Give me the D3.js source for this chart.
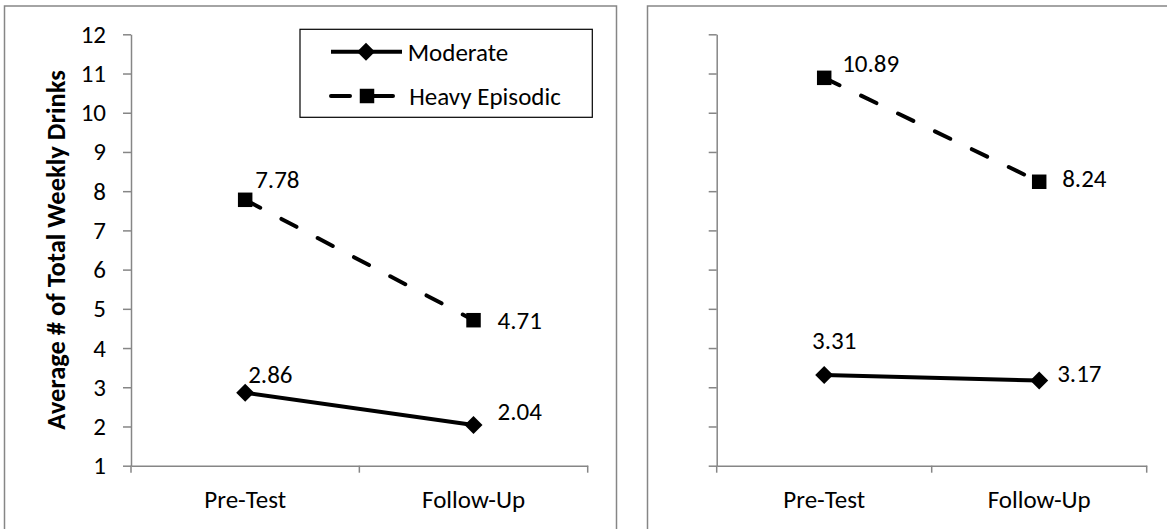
<!DOCTYPE html>
<html>
<head>
<meta charset="utf-8">
<script src="https://cdn.jsdelivr.net/npm/d3@7"></script>
<style>
  html, body { margin: 0; padding: 0; background: #fff; }
  svg { display: block; font-family: Carlito, Calibri, Lato, sans-serif; }
</style>
</head>
<body>
<svg id="chart" width="1167" height="529"></svg>
<script>
// Data
const categories = ["Pre-Test", "Follow-Up"];
const seriesNames = ["Moderate", "Heavy Episodic"];
const leftModerate = [2.86, 2.04];
const leftHeavy = [7.78, 4.71];
const rightModerate = [3.31, 3.17];
const rightHeavy = [10.89, 8.24];
const yTicks = [1, 2, 3, 4, 5, 6, 7, 8, 9, 10, 11, 12];
const yTitle = "Average # of Total Weekly Drinks";

// Label offsets from marker [dx, dy, anchor]
const leftLabelOffsets = {
  moderate: [[3, -10, "start"], [24, -5, "start"]],
  heavy: [[10, -12, "start"], [24, 9, "start"]],
};
const rightLabelOffsets = {
  moderate: [[10, -26, "middle"], [18, 1, "start"]],
  heavy: [[18, -6, "start"], [23, 5, "start"]],
};

const AXIS_COLOR = "#868686";
const FONT_SIZE = 25;
const TITLE_SIZE = 26.5;

const svg = d3.select("#chart");

// Panel frames
svg.append("rect").attr("x", 4.5).attr("y", 6).attr("width", 612).attr("height", 540)
  .style("fill", "none").style("stroke", AXIS_COLOR).style("stroke-width", 1.5);
svg.append("rect").attr("x", 647.5).attr("y", 6).attr("width", 540).attr("height", 540)
  .style("fill", "none").style("stroke", AXIS_COLOR).style("stroke-width", 1.5);

const yScale = d3.scaleLinear().domain([1, 12]).range([465.7, 34.3]);

const diamond = d3.symbol(d3.symbolSquare, 162)();
const square = d3.symbol(d3.symbolSquare, 210)();

const drawPanel = (x0, x1, moderate, heavy, offsets, showLabels) => {
  const g = svg.append("g");
  const xScale = d3.scaleBand().domain(categories).range([x0, x1]);
  const cx = (c) => xScale(c) + xScale.bandwidth() / 2;

  // Y axis
  const yAxis = d3.axisLeft(yScale).tickValues(yTicks).tickSize(8).tickSizeOuter(0)
    .tickPadding(17).tickFormat(showLabels ? d3.format("d") : () => "");
  const yG = g.append("g").attr("transform", `translate(${x0},0)`).call(yAxis);
  yG.select(".domain").style("stroke", AXIS_COLOR).style("stroke-width", 1.5);
  yG.selectAll(".tick line").style("stroke", AXIS_COLOR).style("stroke-width", 1.5);
  yG.selectAll(".tick text").style("font-size", FONT_SIZE + "px").style("fill", "#000")
    .style("font-family", "Carlito, Calibri, Lato, sans-serif");

  // X axis
  const xAxis = d3.axisBottom(xScale).tickSize(0).tickPadding(25).tickSizeOuter(0);
  const xG = g.append("g").attr("transform", `translate(0,${yScale(1)})`).call(xAxis);
  xG.select(".domain").style("stroke", AXIS_COLOR).style("stroke-width", 1.5);
  xG.selectAll(".tick text").style("font-size", FONT_SIZE + "px").style("fill", "#000")
    .style("font-family", "Carlito, Calibri, Lato, sans-serif");
  const bounds = d3.range(categories.length + 1).map((i) => x0 + i * xScale.step());
  g.selectAll("line.xtick").data(bounds).enter().append("line").classed("xtick", true)
    .attr("x1", (d) => d).attr("x2", (d) => d)
    .attr("y1", yScale(1)).attr("y2", yScale(1) + 7)
    .style("stroke", AXIS_COLOR).style("stroke-width", 1.5);

  const line = d3.line().x((d, i) => cx(categories[i])).y((d) => yScale(d));

  // Heavy episodic series
  g.append("path").attr("d", line(heavy))
    .style("fill", "none").style("stroke", "#000").style("stroke-width", 4)
    .style("stroke-dasharray", "17,24").style("stroke-linecap", "round");
  g.selectAll("path.sq").data(heavy).enter().append("path").classed("sq", true)
    .attr("d", square)
    .attr("transform", (d, i) => `translate(${cx(categories[i])},${yScale(d)})`);

  // Moderate series
  g.append("path").attr("d", line(moderate))
    .style("fill", "none").style("stroke", "#000").style("stroke-width", 4)
    .style("stroke-linejoin", "round");
  g.selectAll("path.dm").data(moderate).enter().append("path").classed("dm", true)
    .attr("d", diamond)
    .attr("transform", (d, i) => `translate(${cx(categories[i])},${yScale(d)}) rotate(45)`);

  // Data labels
  const addLabels = (vals, offs) => {
    g.selectAll(null).data(vals).enter().append("text")
      .attr("x", (d, i) => cx(categories[i]) + offs[i][0])
      .attr("y", (d, i) => yScale(d) + offs[i][1])
      .attr("text-anchor", (d, i) => offs[i][2])
      .style("font-size", FONT_SIZE + "px")
      .text((d) => d.toFixed(2));
  };
  addLabels(moderate, offsets.moderate);
  addLabels(heavy, offsets.heavy);
};

drawPanel(131, 587.7, leftModerate, leftHeavy, leftLabelOffsets, true);
drawPanel(716.7, 1146.7, rightModerate, rightHeavy, rightLabelOffsets, false);

// Y axis title
svg.append("text")
  .attr("transform", `translate(65,${yScale(6.5)}) rotate(-90)`)
  .attr("text-anchor", "middle")
  .style("font-size", TITLE_SIZE + "px").style("font-weight", "bold")
  .text(yTitle);

// Legend
const legend = svg.append("g");
legend.append("rect").attr("x", 300).attr("y", 29.3).attr("width", 292.3).attr("height", 88)
  .style("fill", "#fff").style("stroke", "#000").style("stroke-width", 1.2);
const legendRows = [51.7, 96];
legend.append("line").attr("x1", 331).attr("x2", 402).attr("y1", legendRows[0]).attr("y2", legendRows[0])
  .style("stroke", "#000").style("stroke-width", 4);
legend.append("path").attr("d", diamond).attr("transform", `translate(366,${legendRows[0]}) rotate(45)`);
legend.append("line").attr("x1", 331).attr("x2", 393).attr("y1", legendRows[1]).attr("y2", legendRows[1])
  .style("stroke", "#000").style("stroke-width", 4)
  .style("stroke-dasharray", "19,24").style("stroke-linecap", "round");
legend.append("path").attr("d", square).attr("transform", `translate(367,${legendRows[1]})`);
legend.selectAll("text.lg").data(seriesNames).enter().append("text").classed("lg", true)
  .attr("x", (d, i) => (i === 0 ? 407.7 : 409.3))
  .attr("y", (d, i) => legendRows[i] + 9)
  .style("font-size", FONT_SIZE + "px")
  .text((d) => d);
</script>
</body>
</html>
